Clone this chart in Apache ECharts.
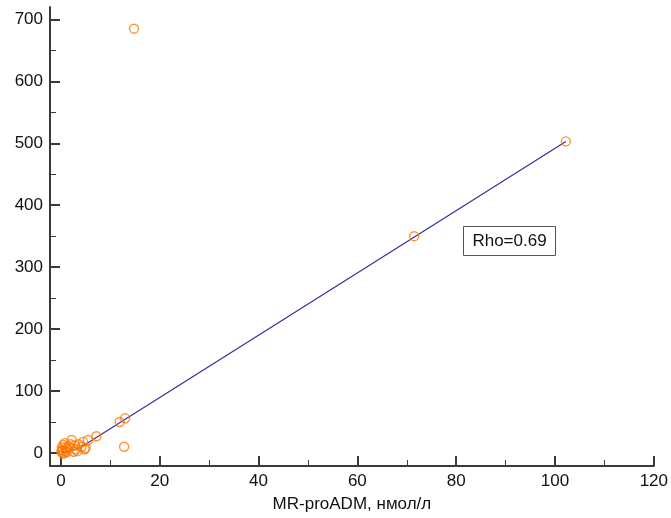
<!DOCTYPE html>
<html>
<head>
<meta charset="utf-8">
<script src="https://cdn.jsdelivr.net/npm/echarts@6/dist/echarts.min.js"></script>
<style>
  html, body { margin: 0; padding: 0; background: #fff; }
  #chart { width: 671px; height: 518px; }
</style>
</head>
<body>
<div id="chart"></div>
<script>
// точки MR-proADM (x) против второго показателя (y)
var pointsX = [0.1, 0.3, 0.5, 0.2, 0.8, 0.6, 1.0, 1.3, 0.4, 1.6, 2.2, 2.6, 3.0, 3.6, 4.2, 4.5, 5.0, 5.5, 1.9, 0.9, 2.8, 0.2, 1.2, 3.3, 4.8,
               7.2, 11.9, 13.0, 12.8, 14.8, 71.5, 102.2];
var pointsY = [2, 5, 13, 9, 16, 0, 3, 7, -1, 11, 21, 2, 6, 14, 10, 18, 8, 21, 14, 9, 12, 4, 1, 3, 6,
               27, 50, 56, 10, 685, 350, 503];
// линия регрессии
var fitX = [0.2, 3.8, 102.2];
var fitY = [0, 8, 503];
// подписи осей
var xTicks = [0, 20, 40, 60, 80, 100, 120];
var xMinorTicks = [10, 30, 50, 70, 90, 110];
var yTicks = [0, 100, 200, 300, 400, 500, 600, 700];
var yMinorTicks = [50, 150, 250, 350, 450, 550, 650];
var rhoText = 'Rho=0.69';

var FONT = 'Liberation Sans, Arial, sans-serif';
var AXIS_COLOR = '#3a3a3a';
var TEXT_COLOR = '#111';

function zip(a, b) {
	return a.map(function (v, i) { return [v, b[i]]; });
}

var chart = echarts.init(document.getElementById('chart'));

var xBase = { type: 'value', min: -2.2, max: 120, splitLine: { show: false } };
var yBase = { type: 'value', min: -21, max: 720, splitLine: { show: false } };

chart.setOption({
	animation: false,
	grid: { left: 50, top: 7, right: 16, bottom: 52 },
	xAxis: [
		Object.assign({}, xBase, {
			name: 'MR-proADM, нмол/л',
			nameLocation: 'middle',
			nameGap: 30,
			nameTextStyle: { fontFamily: FONT, fontSize: 17, color: TEXT_COLOR },
			axisLine: { show: true, onZero: false, lineStyle: { color: AXIS_COLOR, width: 2 } },
			axisTick: { show: true, inside: true, length: 10, customValues: xTicks, lineStyle: { color: AXIS_COLOR, width: 2 } },
			axisLabel: { customValues: xTicks, margin: 7, fontFamily: FONT, fontSize: 17, color: TEXT_COLOR }
		}),
		Object.assign({}, xBase, {
			position: 'bottom',
			axisLine: { show: false, onZero: false },
			axisTick: { show: true, inside: true, length: 6, customValues: xMinorTicks, lineStyle: { color: AXIS_COLOR, width: 1 } },
			axisLabel: { show: false }
		})
	],
	yAxis: [
		Object.assign({}, yBase, {
			axisLine: { show: true, onZero: false, lineStyle: { color: AXIS_COLOR, width: 2 } },
			axisTick: { show: true, inside: true, length: 10, customValues: yTicks, lineStyle: { color: AXIS_COLOR, width: 2 } },
			axisLabel: { customValues: yTicks, margin: 7, fontFamily: FONT, fontSize: 17, color: TEXT_COLOR }
		}),
		Object.assign({}, yBase, {
			position: 'left',
			axisLine: { show: false, onZero: false },
			axisTick: { show: true, inside: true, length: 6, customValues: yMinorTicks, lineStyle: { color: AXIS_COLOR, width: 1 } },
			axisLabel: { show: false }
		})
	],
	graphic: [{
		type: 'group',
		left: 463,
		top: 226,
		children: [
			{ type: 'rect', shape: { x: 0, y: 0, width: 92, height: 29 }, style: { fill: '#fff', stroke: '#555', lineWidth: 1 } },
			{ type: 'text', x: 46, y: 15, style: { text: rhoText, fontFamily: FONT, fontSize: 17, fill: TEXT_COLOR, align: 'center', verticalAlign: 'middle' } }
		]
	}],
	series: [
		{
			type: 'line',
			data: zip(fitX, fitY),
			showSymbol: false,
			lineStyle: { color: '#3030a0', width: 1.2 },
			z: 2
		},
		{
			type: 'scatter',
			data: zip(pointsX, pointsY),
			symbol: 'circle',
			symbolSize: 9,
			itemStyle: { color: 'transparent', borderColor: '#ff7700', borderWidth: 1.4 },
			z: 3
		}
	]
});
</script>
</body>
</html>
